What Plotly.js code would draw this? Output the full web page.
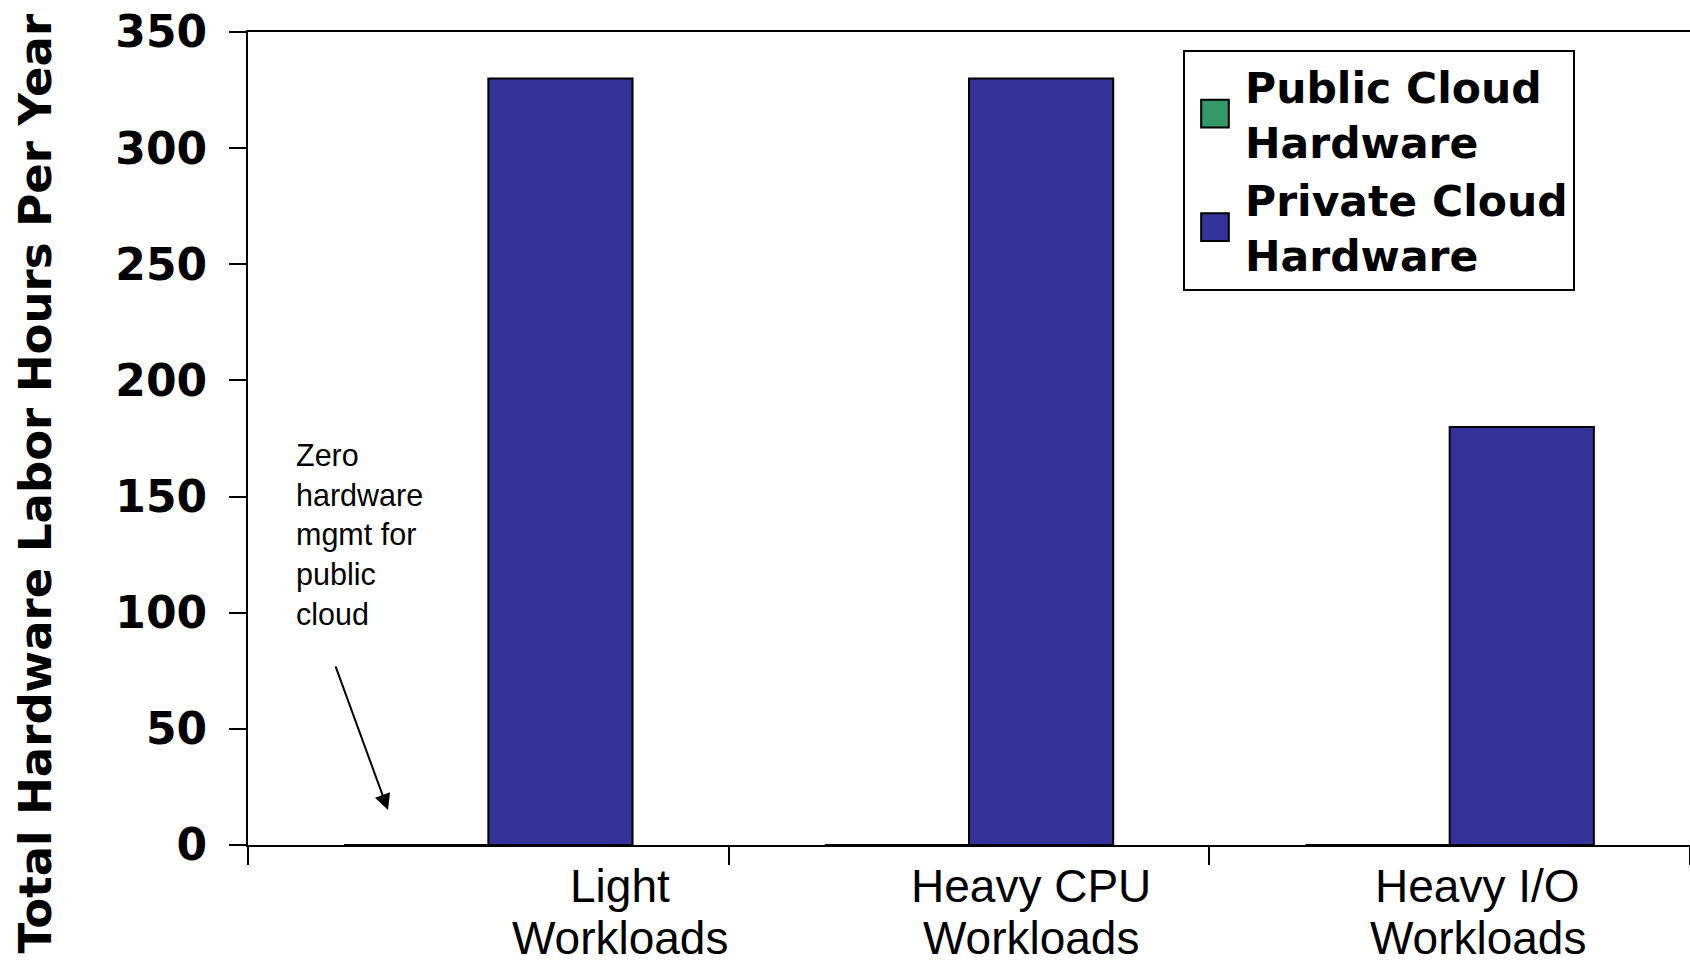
<!DOCTYPE html>
<html>
<head>
<meta charset="utf-8">
<script src="https://cdn.plot.ly/plotly-3.0.1.min.js"></script>
<style>html,body{margin:0;padding:0;background:#fff;}#chart{width:1690px;height:964px;}</style>
</head>
<body>
<div id="chart"></div>
<script>
// ---- data ----
const categories = ["Light Workloads", "Heavy CPU Workloads", "Heavy I/O Workloads"];
const labelLine1 = ["Light", "Heavy CPU", "Heavy I/O"];
const labelLine2 = ["Workloads", "Workloads", "Workloads"];
const publicCloudHardware = [0, 0, 0];
const privateCloudHardware = [330, 330, 180];
const seriesNames = ["Public Cloud<br>Hardware", "Private Cloud<br>Hardware"];
const yTickVals = [0, 50, 100, 150, 200, 250, 300, 350];
const yTitle = "Total Hardware Labor Hours Per Year";
const noteText = "Zero<br>hardware<br>mgmt for<br>public<br>cloud";

// ---- styling ----
const boldFont = "DejaVu Sans";
const normalFont = "Liberation Sans, Arial, sans-serif";
const labelShift = [132, 62, 28];

const traces = [
  {type: "bar", name: seriesNames[0], x: categories, y: publicCloudHardware,
   marker: {color: "#339966", line: {color: "#000000", width: 2}}},
  {type: "bar", name: seriesNames[1], x: categories, y: privateCloudHardware,
   marker: {color: "#333399", line: {color: "#000000", width: 2}}}
];

const annotations = [];
categories.forEach((c, i) => {
  annotations.push({xref: "x", yref: "paper", x: c, y: -0.0504, xshift: labelShift[i],
    text: labelLine1[i], showarrow: false, xanchor: "center", yanchor: "middle",
    font: {family: normalFont, size: 46, color: "#000"}});
  annotations.push({xref: "x", yref: "paper", x: c, y: -0.1144, xshift: labelShift[i],
    text: labelLine2[i], showarrow: false, xanchor: "center", yanchor: "middle",
    font: {family: normalFont, size: 46, color: "#000"}});
});
annotations.push({xref: "paper", yref: "paper", x: -0.1467, y: 0.4453, textangle: -90,
  text: "<b>" + yTitle + "</b>", showarrow: false, xanchor: "center", yanchor: "middle",
  font: {family: boldFont, size: 45, color: "#000"}});
annotations.push({xref: "paper", yref: "paper", x: 0.0319, y: 0.382, align: "left",
  text: noteText, showarrow: false, xanchor: "left", yanchor: "middle",
  font: {family: normalFont, size: 30.5, color: "#000"}});
annotations.push({xref: "paper", yref: "paper", x: 0.0971, y: 0.0431, text: "",
  showarrow: true, ax: -53, ay: -145, arrowhead: 2, arrowsize: 1.6, arrowwidth: 2,
  arrowcolor: "#000", standoff: 0});

const layout = {
  width: 1690, height: 964,
  margin: {l: 248, r: 0, t: 32, b: 119, pad: 0},
  paper_bgcolor: "#ffffff", plot_bgcolor: "#ffffff",
  barmode: "group", bargap: 0.4, bargroupgap: 0,
  showlegend: true,
  legend: {x: 0.6484, y: 0.978, xanchor: "left", yanchor: "top",
    bordercolor: "#000", borderwidth: 2, bgcolor: "#fff",
    itemwidth: 50,
    font: {family: boldFont, size: 42.5, color: "#000", weight: "bold"},
    tracegroupgap: 0},
  xaxis: {type: "category", showgrid: false, zeroline: false,
    showline: true, linecolor: "#000", linewidth: 2, mirror: true,
    ticks: "outside", tickson: "boundaries", ticklen: 18, tickwidth: 2, tickcolor: "#000",
    showticklabels: false},
  yaxis: {range: [0, 350], tickvals: yTickVals, showgrid: false, zeroline: false,
    showline: true, linecolor: "#000", linewidth: 2,
    ticks: "outside", ticklen: 17, tickwidth: 2, tickcolor: "#000",
    ticklabelstandoff: 13,
    tickfont: {family: boldFont, size: 44, color: "#000", weight: "bold"}},
  annotations: annotations
};

Plotly.newPlot("chart", traces, layout, {staticPlot: true, displayModeBar: false}).then(() => {
  // enlarge legend swatches to match the reference's larger squares
  document.querySelectorAll("#chart .legend .legendpoints path").forEach(p => {
    const t = p.getAttribute("transform") || "";
    p.setAttribute("transform", t + " scale(2.3)");
    p.style.strokeWidth = "0.9px";
    p.style.stroke = "#000";
  });
});
</script>
</body>
</html>
